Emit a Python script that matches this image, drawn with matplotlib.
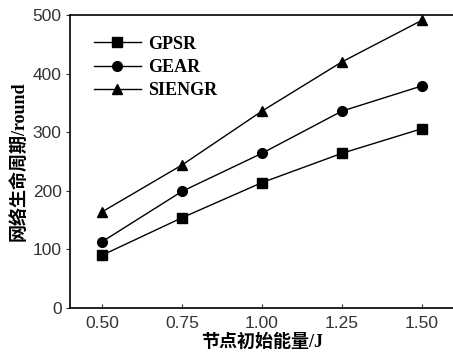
import numpy as np
import matplotlib
matplotlib.use('Agg')
import matplotlib.pyplot as plt

energia = [0.5, 0.75, 1.0, 1.25, 1.5]
gpsr = [90, 154, 214, 264, 306]
gear = [113, 199, 264, 336, 379]
siengr = [164, 244, 336, 420, 491]

serif = ['Liberation Serif', 'Noto Sans CJK SC']

fig = plt.figure(figsize=(4.53, 3.59), dpi=100)
ax = fig.add_axes([70/453, 51/359, 1 - 70/453 + 0.002, 293/359])

ax.plot(energia, gpsr, '-s', color='black', lw=1, ms=6.5, label='GPSR')
ax.plot(energia, gear, '-o', color='black', lw=1, ms=7, label='GEAR')
ax.plot(energia, siengr, '-^', color='black', lw=1, ms=7, label='SIENGR')

ax.set_xlim(0.4, 1.6)
ax.set_ylim(0, 500)
ax.set_xticks(energia)
ax.set_xticklabels(['0.50', '0.75', '1.00', '1.25', '1.50'])
ax.set_yticks([0, 100, 200, 300, 400, 500])
ax.tick_params(axis='x', direction='in', length=3, labelsize=12.5, pad=6, colors='#333333')
ax.tick_params(axis='y', direction='out', length=3, labelsize=12.5, pad=3, colors='#333333')
for lab in ax.get_xticklabels() + ax.get_yticklabels():
    lab.set_family('Liberation Sans')
for s in ax.spines.values():
    s.set_linewidth(1.2)

ax.set_xlabel('节点初始能量/J', family=serif, fontweight='bold', fontsize=13, labelpad=2)
ax.set_ylabel('网络生命周期/round', family=serif, fontweight='bold', fontsize=13, labelpad=4)

leg = ax.legend(loc='upper left', bbox_to_anchor=(0.02, 0.985), frameon=False,
                prop={'family': 'Liberation Serif', 'weight': 'bold', 'size': 13},
                handlelength=2.6, handletextpad=0.4, labelspacing=0.35)

fig.savefig('out.png', dpi=100)
